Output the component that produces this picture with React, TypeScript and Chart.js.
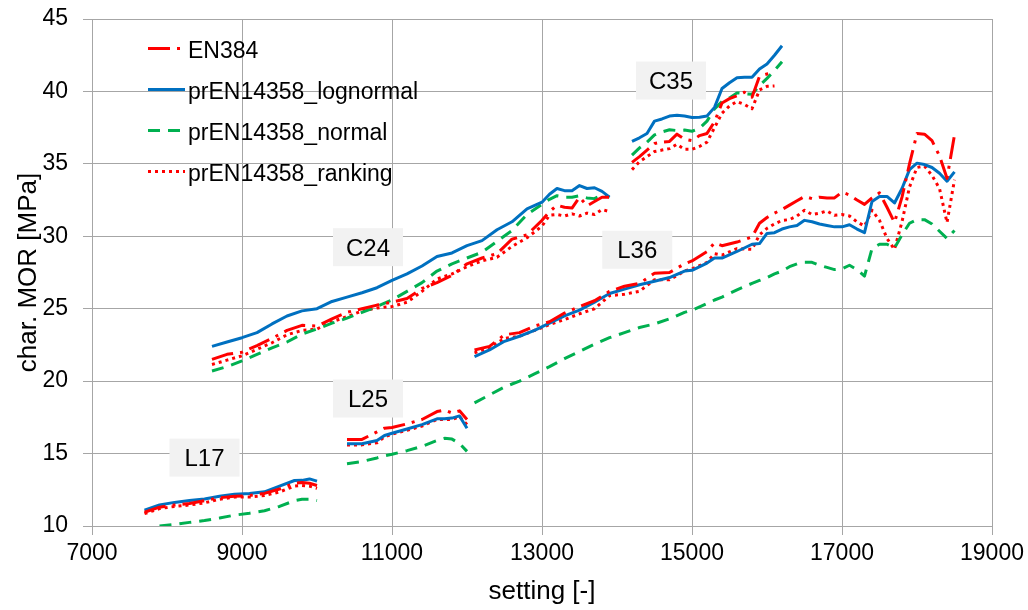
import React, { useEffect, useRef } from "react";
import { Chart, registerables } from "chart.js";

Chart.register(...registerables);

// ---------- tick labels ----------
const X_TICKS = [7000, 9000, 11000, 13000, 15000, 17000, 19000];
const Y_TICKS = [10, 15, 20, 25, 30, 35, 40, 45];

// ---------- series names ----------
const SERIES_NAMES = ["EN384", "prEN14358_lognormal", "prEN14358_normal", "prEN14358_ranking"];

// ---------- L17 ----------
const L17_X = [7700, 7900, 8100, 8300, 8500, 8700, 8900, 9100, 9300, 9500, 9700, 9800, 9900, 10000];
const L17_EN384 = [10.95, 11.3, 11.45, 11.55, 11.75, 11.95, 12.05, 12.1, 12.25, 12.55, 12.95, 13.0, 12.95, 12.8];
const L17_LOGNORMAL = [11.1, 11.45, 11.63, 11.76, 11.87, 12.05, 12.2, 12.24, 12.36, 12.75, 13.14, 13.15, 13.25, 13.1];
const L17_NORMAL = [null, 10.0, 10.1, 10.25, 10.38, 10.55, 10.75, 10.88, 11.05, 11.35, 11.75, 11.85, 11.85, 11.75];
const L17_RANKING = [10.85, 11.2, 11.35, 11.45, 11.6, 11.85, 12.0, 12.0, 12.1, 12.35, 12.75, 12.8, 12.75, 12.6];

// ---------- L25 ----------
const L25_X = [10400, 10600, 10800, 10900, 11000, 11200, 11400, 11600, 11700, 11800, 11900, 12000];
const L25_EN384 = [15.97, 15.98, 16.5, 16.75, 16.8, 17.05, 17.35, 17.9, 18.0, 17.8, 17.95, 17.35];
const L25_LOGNORMAL = [15.67, 15.68, 15.9, 16.25, 16.4, 16.7, 17.0, 17.4, 17.4, 17.45, 17.6, 16.75];
const L25_NORMAL = [14.3, 14.45, 14.7, 14.85, 14.95, 15.2, 15.5, 15.9, 16.05, 16.0, 15.7, 15.15];
const L25_RANKING = [15.6, 15.6, 15.75, 16.15, 16.35, 16.6, 16.9, 17.35, 17.35, 17.35, 17.55, 17.0];

// ---------- C24 ----------
const C24_X = [8600, 8800, 9000, 9200, 9400, 9600, 9800, 10000, 10200, 10400, 10600, 10800, 11000, 11200, 11400, 11600, 11800, 12000, 12200, 12400, 12600, 12800, 13000, 13100, 13200, 13300, 13400, 13500, 13600, 13700, 13800, 13900];
const C24_EN384 = [21.5, 21.85, 22.0, 22.45, 22.95, 23.5, 23.85, 23.8, 24.3, 24.75, 25.0, 25.25, 25.45, 25.7, 26.4, 26.8, 27.3, 28.1, 28.5, 28.8, 29.8, 30.1, 31.1, 31.7, 32.15, 32.0, 31.95, 32.7, 32.1, 32.4, 32.7, 32.7];
const C24_LOGNORMAL = [22.4, 22.7, 23.0, 23.35, 23.95, 24.5, 24.85, 25.0, 25.5, 25.8, 26.1, 26.45, 26.95, 27.4, 27.95, 28.6, 28.85, 29.35, 29.7, 30.45, 31.0, 31.9, 32.35, 32.9, 33.3, 33.15, 33.15, 33.5, 33.3, 33.35, 33.1, 32.7];
const C24_NORMAL = [20.7, 21.0, 21.4, 21.85, 22.3, 22.7, 23.25, 23.6, 24.0, 24.35, 24.75, 25.15, 25.6, 26.2, 26.8, 27.6, 28.1, 28.5, 28.9, 29.65, 30.4, 31.5, 32.2, 32.55, 32.8, 32.7, 32.7, 32.8, 32.65, 32.6, 32.85, 32.7];
const C24_RANKING = [21.15, 21.45, 21.75, 22.2, 22.65, 23.2, 23.5, 23.6, 24.1, 24.45, 24.85, 25.05, 25.15, 25.45, 26.2, 27.05, 27.4, 27.9, 28.3, 28.55, 29.3, 29.9, 30.7, 31.45, 31.5, 31.4, 31.55, 31.4, 31.6, 31.5, 31.85, 31.7];

// ---------- L36 ----------
const L36_X = [12100, 12300, 12500, 12700, 12900, 13100, 13300, 13500, 13700, 13900, 14100, 14300, 14500, 14700, 14900, 15000, 15200, 15300, 15400, 15600, 15800, 15900, 16000, 16100, 16200, 16300, 16400, 16500, 16600, 16700, 16800, 16900, 17000, 17100, 17200, 17300, 17400, 17500, 17600, 17700, 17800, 17900, 18000, 18100, 18200, 18300, 18400, 18500];
const L36_EN384 = [22.15, 22.4, 23.2, 23.35, 23.8, 24.1, 24.7, 25.15, 25.55, 26.2, 26.55, 26.75, 27.45, 27.5, 28.1, 28.3, 28.95, 29.55, 29.35, 29.6, 29.95, 30.9, 31.3, 31.6, 31.85, 32.15, 32.45, 32.75, 32.6, 32.7, 32.65, 32.65, 33.05, 32.85, 32.5, 32.2, 32.65, 33.0, 32.0, 30.95, 32.7, 35.0, 37.1, 37.05, 36.6, 35.55, 34.0, 37.0];
const L36_LOGNORMAL = [21.7, 22.15, 22.75, 23.1, 23.5, 24.0, 24.5, 24.9, 25.45, 26.05, 26.35, 26.65, 26.9, 27.15, 27.6, 27.65, 28.15, 28.5, 28.5, 28.95, 29.45, 29.5, 30.2, 30.25, 30.5, 30.65, 30.75, 31.1, 31.0, 30.85, 30.75, 30.65, 30.65, 30.8, 30.5, 30.25, 32.4, 32.75, 32.75, 32.3, 33.3, 34.6, 35.05, 34.95, 34.75, 34.35, 33.8, 34.45];
const L36_NORMAL = [18.5, 19.05, 19.6, 20.0, 20.5, 21.0, 21.55, 22.05, 22.55, 23.0, 23.35, 23.7, 23.95, 24.3, 24.75, 24.9, 25.35, 25.6, 25.8, 26.3, 26.75, 26.95, 27.15, 27.4, 27.6, 27.9, 28.1, 28.2, 28.2, 28.0, 27.85, 27.7, 27.75, 28.0, 27.7, 27.25, 29.15, 29.45, 29.45, 29.2, 30.1, 30.9, 31.15, 31.15, 30.85, 30.35, 29.85, 30.4];
const L36_RANKING = [21.95, 22.3, 22.95, 23.1, 23.5, 23.9, 24.25, 24.65, 25.0, 25.9, 26.0, 26.2, 27.0, 27.0, 27.6, 27.75, 28.2, 28.8, 28.7, 29.15, 29.1, 30.1, 30.55, 30.85, 31.1, 31.15, 31.4, 31.8, 31.5, 31.6, 31.75, 31.45, 31.5, 31.4, 31.0, 30.7, 31.8, 31.1, 29.85, 29.1, 31.0, 33.4, 34.75, 34.85, 34.2, 33.3, 30.95, 33.9];

// ---------- C35 ----------
const C35_X = [14200, 14300, 14400, 14500, 14600, 14700, 14800, 14900, 15000, 15100, 15200, 15300, 15400, 15500, 15600, 15700, 15800, 15900, 16000, 16100, 16200];
const C35_EN384 = [35.1, 35.5, 35.95, 36.4, 36.5, 36.55, 37.05, 36.7, 36.6, 36.95, 37.1, 37.9, 39.2, 39.5, 39.7, 39.95, 39.6, 41.05, 41.2, 41.3, null];
const C35_LOGNORMAL = [36.55, 36.8, 37.1, 37.95, 38.1, 38.3, 38.35, 38.3, 38.2, 38.22, 38.3, 38.9, 40.2, 40.6, 40.95, 40.98, 40.98, 41.55, 41.9, 42.5, 43.15];
const C35_NORMAL = [35.6, 36.1, 36.5, 37.0, 37.2, 37.35, 37.3, 37.33, 37.25, 37.45, 37.95, 38.8, 39.3, 39.55, 39.9, 39.85, 39.8, 40.4, 40.9, 41.45, 42.05];
const C35_RANKING = [34.6, 35.15, 35.5, 35.85, 35.95, 36.05, 36.35, 36.0, 36.0, 36.2, 36.5, 37.5, 38.5, 39.0, 39.3, 39.1, 38.8, 40.1, 40.35, 40.38, null];

// ---------- grade labels ----------
const GRADE_LABELS = ["L17", "L25", "C24", "L36", "C35"];
const GRADE_LABEL_X = [8500, 10680, 10680, 14270, 14720];
const GRADE_LABEL_Y = [14.72, 18.8, 29.25, 29.07, 40.75];

const FONT = '"Liberation Sans", Arial, Helvetica, sans-serif';

type Pt = { x: number; y: number | null };

function joinSegments(segs: [number[], (number | null)[]][]): Pt[] {
  const out: Pt[] = [];
  segs.forEach(([xs, ys], i) => {
    if (i > 0) out.push({ x: xs[0], y: null });
    xs.forEach((x, j) => out.push({ x, y: ys[j] }));
  });
  return out;
}

const insideLegend = {
  id: "insideLegend",
  afterDatasetsDraw(chart: any) {
    const { ctx, chartArea } = chart;
    ctx.save();
    const x0 = chartArea.left + 56;
    const x1 = chartArea.left + 93;
    const tx = chartArea.left + 96;
    SERIES_NAMES.forEach((name, i) => {
      const yc = chartArea.top + 30.5 + i * 41;
      const ds = chart.data.datasets[i];
      ctx.strokeStyle = ds.borderColor;
      ctx.lineWidth = ds.borderWidth;
      ctx.lineCap = "butt";
      ctx.setLineDash(ds.borderDash || []);
      ctx.beginPath();
      ctx.moveTo(x0, yc - 1);
      ctx.lineTo(x1, yc - 1);
      ctx.stroke();
      ctx.setLineDash([]);
      ctx.fillStyle = "#000";
      ctx.font = `23px ${FONT}`;
      ctx.textAlign = "left";
      ctx.textBaseline = "alphabetic";
      ctx.fillText(name, tx, yc + 8.2);
    });
    ctx.restore();
  },
};

const gradeBoxes = {
  id: "gradeBoxes",
  beforeDatasetsDraw(chart: any) {
    const { ctx } = chart;
    const xs = chart.scales.x;
    const ys = chart.scales.y;
    ctx.save();
    GRADE_LABELS.forEach((t, i) => {
      const cx = xs.getPixelForValue(GRADE_LABEL_X[i]);
      const cy = ys.getPixelForValue(GRADE_LABEL_Y[i]);
      ctx.fillStyle = "#f2f2f2";
      ctx.fillRect(cx - 35, cy - 19, 70, 38);
      ctx.fillStyle = "#000";
      ctx.font = `24px ${FONT}`;
      ctx.textAlign = "center";
      ctx.textBaseline = "alphabetic";
      ctx.fillText(t, cx, cy + 8.5);
    });
    ctx.restore();
  },
};

export default function App() {
  const ref = useRef<HTMLCanvasElement | null>(null);

  useEffect(() => {
    if (!ref.current) return;
    const en384 = joinSegments([[L17_X, L17_EN384], [C24_X, C24_EN384], [L25_X, L25_EN384], [L36_X, L36_EN384], [C35_X, C35_EN384]]);
    const logn = joinSegments([[L17_X, L17_LOGNORMAL], [C24_X, C24_LOGNORMAL], [L25_X, L25_LOGNORMAL], [L36_X, L36_LOGNORMAL], [C35_X, C35_LOGNORMAL]]);
    const norm = joinSegments([[L17_X, L17_NORMAL], [C24_X, C24_NORMAL], [L25_X, L25_NORMAL], [L36_X, L36_NORMAL], [C35_X, C35_NORMAL]]);
    const rank = joinSegments([[L17_X, L17_RANKING], [C24_X, C24_RANKING], [L25_X, L25_RANKING], [L36_X, L36_RANKING], [C35_X, C35_RANKING]]);

    const common = { pointRadius: 0, pointHoverRadius: 0, tension: 0, fill: false, spanGaps: false, borderCapStyle: "butt" as const, borderJoinStyle: "round" as const };

    const chart = new Chart(ref.current, {
      type: "line",
      data: {
        datasets: [
          { ...common, label: SERIES_NAMES[0], data: en384 as any, borderColor: "#FF0000", borderWidth: 3, borderDash: [22, 7, 3, 7] },
          { ...common, label: SERIES_NAMES[1], data: logn as any, borderColor: "#0070C0", borderWidth: 3 },
          { ...common, label: SERIES_NAMES[2], data: norm as any, borderColor: "#00B050", borderWidth: 3, borderDash: [12, 8] },
          { ...common, label: SERIES_NAMES[3], data: rank as any, borderColor: "#FF0000", borderWidth: 3, borderDash: [3, 4] },
        ],
      },
      options: {
        animation: false,
        responsive: false,
        layout: { padding: { left: 0, right: 36, top: 19, bottom: 0 } },
        plugins: { legend: { display: false }, tooltip: { enabled: false } },
        events: [],
        scales: {
          x: {
            type: "linear",
            min: 7000,
            max: 19000,
            afterBuildTicks: (s: any) => { s.ticks = X_TICKS.map((v) => ({ value: v })); },
            afterFit: (s: any) => { s.height = 84; s.paddingLeft = 0; s.paddingRight = 0; },
            ticks: { callback: (v: any) => String(v), color: "#000", font: { family: FONT, size: 23 }, padding: 5, maxRotation: 0, autoSkip: false },
            grid: { color: "#a6a6a6", lineWidth: 1, tickLength: 9, drawTicks: true },
            border: { display: true, color: "#a6a6a6" },
            title: { display: true, text: "setting [-]", color: "#000", font: { family: FONT, size: 26 }, padding: { top: 0, bottom: 3 } },
          },
          y: {
            type: "linear",
            min: 10,
            max: 45,
            afterBuildTicks: (s: any) => { s.ticks = Y_TICKS.map((v) => ({ value: v })); },
            afterFit: (s: any) => { s.width = 92; s.paddingTop = 0; s.paddingBottom = 0; },
            ticks: { callback: (v: any) => String(v), color: "#000", font: { family: FONT, size: 23 }, padding: 15 },
            grid: { color: "#a6a6a6", lineWidth: 1, tickLength: 9, drawTicks: true },
            border: { display: true, color: "#a6a6a6" },
            title: { display: true, text: "char. MOR [MPa]", color: "#000", font: { family: FONT, size: 26 }, padding: { top: 13, bottom: 0 } },
          },
        },
      },
      plugins: [gradeBoxes, insideLegend],
    });
    return () => chart.destroy();
  }, []);

  return (
    <div style={{ position: "absolute", left: 0, top: 0, width: 1028, height: 610, background: "#fff" }}>
      <canvas ref={ref} width={1028} height={610} />
    </div>
  );
}
